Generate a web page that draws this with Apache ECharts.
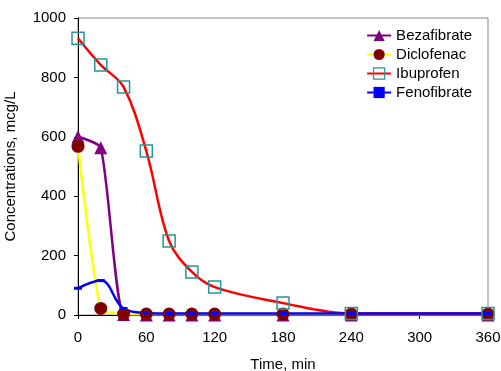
<!DOCTYPE html>
<html><head><meta charset="utf-8">
<script src="https://cdn.jsdelivr.net/npm/echarts@6/dist/echarts.min.js"></script>
<style>html,body{margin:0;padding:0;background:#fff}#c{width:501px;height:371px}</style>
</head><body><div id="c"></div>
<script>
const times = [0, 20, 40, 60, 80, 100, 120, 180, 240, 360];
const bezafibrate = [600, 563, 2, 0, 0, 0, 0, 0, 0, 0];
const diclofenac = [568, 22, 3, 3, 3, 3, 3, 3, 3, 3];
const ibuprofen = [932, 842, 768, 552, 249, 145, 94, 40, 5, 5];
const fenofibrate = [90, 116, 22, 7, 5, 5, 5, 5, 5, 5];
const xTicks = [0, 60, 120, 180, 240, 300, 360];
const yTicks = [0, 200, 400, 600, 800, 1000];

const pairs = arr => times.map((t, i) => [t, arr[i]]);
const font = 'Liberation Sans, Arial, sans-serif';
const chart = echarts.init(document.getElementById('c'), null, {renderer: 'canvas'});
chart.setOption({
  animation: false,
  backgroundColor: '#fff',
  grid: {left: 78, right: 13, top: 18, bottom: 56, show: true, borderColor: '#888', borderWidth: 1,
         containLabel: false, outerBoundsMode: 'none'},
  legend: {
    right: 24, top: 23, orient: 'vertical', itemGap: 4, itemWidth: 24, itemHeight: 14,
    textStyle: {fontFamily: font, fontSize: 15, color: '#000'},
    data: [
      {name: 'Bezafibrate'},
      {name: 'Diclofenac'},
      {name: 'Ibuprofen', itemStyle: {borderWidth: 1.2}},
      {name: 'Fenofibrate'}
    ]
  },
  xAxis: {
    type: 'value', min: 0, max: 360, interval: 60,
    name: 'Time, min', nameLocation: 'middle', nameGap: 42,
    nameTextStyle: {fontFamily: font, fontSize: 15, color: '#000'},
    axisLine: {lineStyle: {color: '#000'}}, axisTick: {inside: false, length: 4, lineStyle: {color: '#000'}},
    axisLabel: {fontFamily: font, fontSize: 15, color: '#000', margin: 15, formatter: v => xTicks.includes(v) ? v : ''},
    splitLine: {show: false}
  },
  yAxis: {
    type: 'value', min: 0, max: 1000, interval: 200,
    name: 'Concentrations, mcg/L', nameLocation: 'middle', nameGap: 60, nameRotate: 90,
    nameTextStyle: {fontFamily: font, fontSize: 15, color: '#000'},
    axisLine: {show: true, lineStyle: {color: '#000'}}, axisTick: {show: true, length: 4, lineStyle: {color: '#000'}},
    axisLabel: {fontFamily: font, fontSize: 15, color: '#000', margin: 12, formatter: v => yTicks.includes(v) ? v : ''},
    splitLine: {show: false}
  },
  series: [
    {name: 'Bezafibrate', type: 'line', data: pairs(bezafibrate), smooth: 0.2,
     symbol: 'triangle', symbolSize: 13, showAllSymbol: true,
     lineStyle: {color: '#800080', width: 2.5}, itemStyle: {color: '#800080', borderWidth: 0}},
    {name: 'Diclofenac', type: 'line', data: pairs(diclofenac), smooth: 0.2,
     symbol: 'circle', symbolSize: 13,
     lineStyle: {color: '#ffff00', width: 2.5}, itemStyle: {color: '#800000', borderWidth: 0}},
    {name: 'Ibuprofen', type: 'line', data: pairs(ibuprofen), smooth: 0.35,
     symbol: 'rect', symbolSize: 12,
     lineStyle: {color: '#ff0000', width: 2.5}, itemStyle: {color: 'rgba(0,0,0,0)', borderColor: '#259595', borderWidth: 1.5}},
    {name: 'Fenofibrate', type: 'line', data: pairs(fenofibrate), smooth: 0.4,
     symbol: 'rect', symbolSize: [8, 3],
     lineStyle: {color: '#0000ff', width: 2.5}, itemStyle: {color: '#0000ff', borderWidth: 0}}
  ]
});
</script></body></html>
